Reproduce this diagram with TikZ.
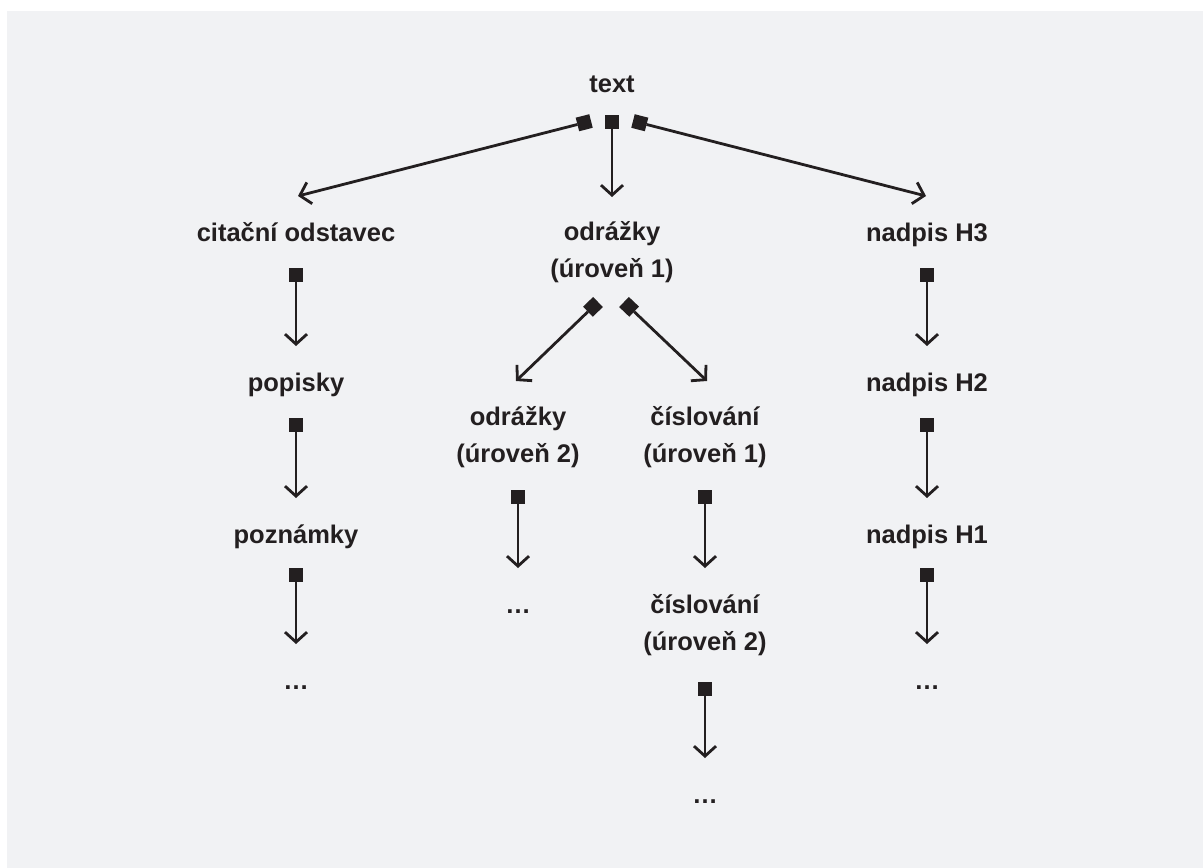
\documentclass[tikz,border=0pt]{standalone}
\usepackage{fontspec}
\setmainfont{Liberation Sans}
\usetikzlibrary{arrows.meta}
\definecolor{panel}{HTML}{F1F2F4}
\definecolor{ink}{HTML}{231F20}
\begin{document}
\begin{tikzpicture}[x=1pt,y=-1pt,
  lbl/.style={anchor=base, inner sep=0pt, align=center, text=ink,
    font=\fontsize{25.5}{37}\selectfont\bfseries},
  link/.style={draw=ink, line width=2.8pt,
    {Square[length=14pt,width=14pt,line width=0pt]}-{Straight Barb[length=10pt,width=22pt,line width=2.8pt]}}
]
\useasboundingbox (0,0) rectangle (1203,868);
\fill[panel] (7,11) rectangle (1203,868);

% labels (anchored at the baseline of their last line)
\node[lbl] (top) at (612,92) {text};
\node[lbl] (cit) at (296,241) {citační odstavec};
\node[lbl] (odr1) at (612,277) {odrážky\\(úroveň 1)};
\node[lbl] (h3) at (927,241) {nadpis H3};
\node[lbl] (pop) at (296,391) {popisky};
\node[lbl] (pozn) at (296,543) {poznámky};
\node[lbl] (ldots) at (296,689) {…};
\node[lbl] (odr2) at (518,462) {odrážky\\(úroveň 2)};
\node[lbl] (cis1) at (705,462) {číslování\\(úroveň 1)};
\node[lbl] (adots) at (518,613) {…};
\node[lbl] (cis2) at (705,650) {číslování\\(úroveň 2)};
\node[lbl] (bdots) at (705,803) {…};
\node[lbl] (h2) at (927,391) {nadpis H2};
\node[lbl] (h1) at (927,543) {nadpis H1};
\node[lbl] (rdots) at (927,689) {…};

% connector ends
\coordinate (top-l) at (591,121);
\coordinate (top-m) at (612,115);
\coordinate (top-r) at (633,121);
\coordinate (cit-in) at (298,196);
\coordinate (odr1-in) at (612,197);
\coordinate (h3-in) at (926,196);

\coordinate (cit-out) at (296,268);
\coordinate (pop-in) at (296,346);
\coordinate (pop-out) at (296,418);
\coordinate (pozn-in) at (296,498);
\coordinate (pozn-out) at (296,568);
\coordinate (ldots-in) at (296,644);

\coordinate (h3-out) at (927,268);
\coordinate (h2-in) at (927,346);
\coordinate (h2-out) at (927,418);
\coordinate (h1-in) at (927,498);
\coordinate (h1-out) at (927,568);
\coordinate (rdots-in) at (927,644);

\coordinate (odr1-l) at (598,302);
\coordinate (odr1-r) at (624,302);
\coordinate (odr2-in) at (516,381);
\coordinate (cis1-in) at (707,381);

\coordinate (odr2-out) at (518,490);
\coordinate (adots-in) at (518,568);
\coordinate (cis1-out) at (705,490);
\coordinate (cis2-in) at (705,568);
\coordinate (cis2-out) at (705,682);
\coordinate (bdots-in) at (705,758);

% connectors
\draw[link] (top-l) -- (cit-in);
\draw[link] (top-m) -- (odr1-in);
\draw[link] (top-r) -- (h3-in);

\draw[link] (cit-out) -- (pop-in);
\draw[link] (pop-out) -- (pozn-in);
\draw[link] (pozn-out) -- (ldots-in);

\draw[link] (h3-out) -- (h2-in);
\draw[link] (h2-out) -- (h1-in);
\draw[link] (h1-out) -- (rdots-in);

\draw[link] (odr1-l) -- (odr2-in);
\draw[link] (odr1-r) -- (cis1-in);
\draw[link] (odr2-out) -- (adots-in);
\draw[link] (cis1-out) -- (cis2-in);
\draw[link] (cis2-out) -- (bdots-in);
\end{tikzpicture}
\end{document}
